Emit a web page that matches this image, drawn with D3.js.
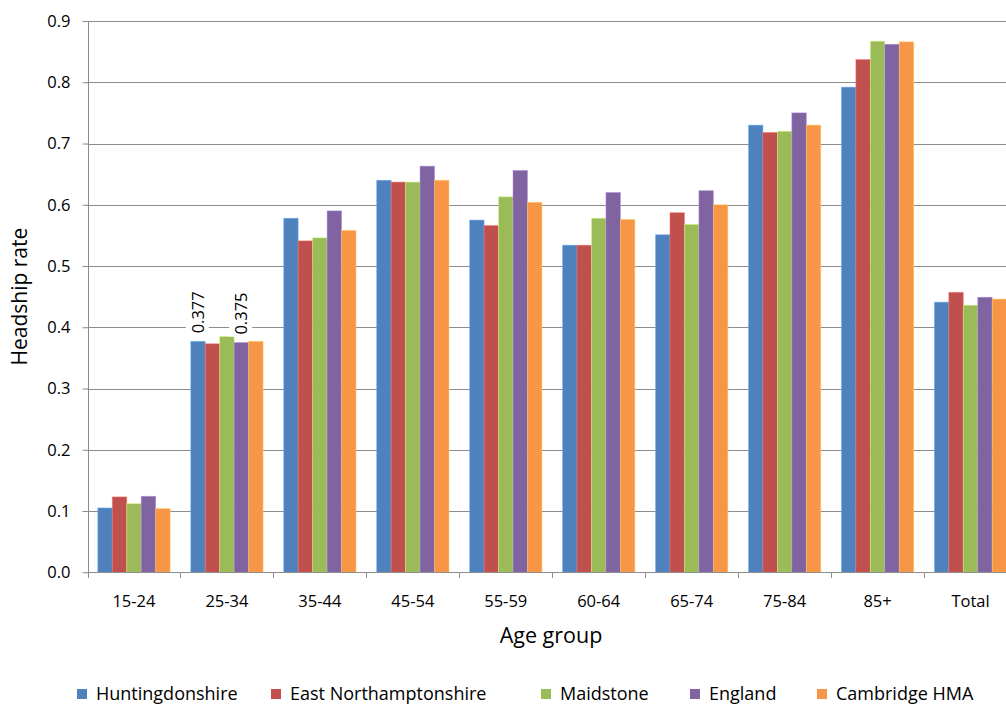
<!DOCTYPE html>
<html>
<head>
<meta charset="utf-8">
<script src="https://cdn.jsdelivr.net/npm/d3@7"></script>
<style>
  html, body { margin: 0; padding: 0; background: #fff; }
  svg text { font-family: "Open Sans", "Noto Sans", sans-serif; fill: #000; }
</style>
</head>
<body>
<svg id="chart" width="1006" height="706"></svg>
<script>
// Age groups along the x axis
const ageGroups = ["15-24", "25-34", "35-44", "45-54", "55-59", "60-64", "65-74", "75-84", "85+", "Total"];

// Areas compared in each group
const seriesNames = ["Huntingdonshire", "East Northamptonshire", "Maidstone", "England", "Cambridge HMA"];
const seriesColors = ["#4F81BD", "#C0504D", "#9BBB59", "#8064A2", "#F79646"];

// Headship rates per area, one value per age group
const huntingdonshire      = [0.105, 0.377, 0.578, 0.640, 0.575, 0.534, 0.551, 0.730, 0.792, 0.441];
const eastNorthamptonshire = [0.123, 0.373, 0.541, 0.637, 0.566, 0.534, 0.587, 0.718, 0.837, 0.457];
const maidstone            = [0.112, 0.385, 0.546, 0.637, 0.613, 0.578, 0.568, 0.720, 0.867, 0.436];
const england              = [0.124, 0.375, 0.590, 0.663, 0.656, 0.620, 0.623, 0.750, 0.862, 0.449];
const cambridgeHMA         = [0.104, 0.377, 0.558, 0.640, 0.604, 0.576, 0.600, 0.730, 0.866, 0.446];

const seriesValues = [huntingdonshire, eastNorthamptonshire, maidstone, england, cambridgeHMA];

// Y axis ticks
const yTicks = [0, 0.1, 0.2, 0.3, 0.4, 0.5, 0.6, 0.7, 0.8, 0.9];

// Bars carrying a value label: [series index, age group index]
const labelledBars = [[0, 1], [3, 1]];

const svg = d3.select("#chart");

const plot = { left: 87.5, right: 1017, top: 21, bottom: 572.25 };

// Each band spans the full category width; bars sit in its middle
const xCat = d3.scaleBand()
  .domain(ageGroups)
  .range([plot.left, plot.right]);

const xInner = d3.scaleBand()
  .domain(seriesNames)
  .range([0, xCat.bandwidth() * 0.778]);

const y = d3.scaleLinear()
  .domain([0, 0.9])
  .range([plot.bottom, plot.top]);

// Horizontal gridlines
svg.append("g")
  .selectAll("line")
  .data(yTicks.slice(1))
  .join("line")
  .attr("x1", plot.left)
  .attr("x2", plot.right)
  .attr("y1", d => Math.round(y(d)) + 0.5)
  .attr("y2", d => Math.round(y(d)) + 0.5)
  .attr("stroke", "#8c8c8c")
  .attr("stroke-width", 1);

// Bars
const groupOffset = xCat.bandwidth() * 0.111;
const groups = svg.append("g")
  .selectAll("g")
  .data(seriesNames)
  .join("g")
  .attr("fill", (d, i) => seriesColors[i]);

groups.selectAll("rect")
  .data((name, si) => seriesValues[si].map((v, gi) => ({ name, si, gi, v })))
  .join("rect")
  .attr("x", d => xCat(ageGroups[d.gi]) + groupOffset + xInner(d.name))
  .attr("width", xInner.bandwidth())
  .attr("y", d => y(d.v))
  .attr("height", d => y(0) - y(d.v))
  .attr("stroke", d => d3.color(seriesColors[d.si]).brighter(0.9))
  .attr("stroke-opacity", 0.6)
  .attr("stroke-width", 0.8);

// Y axis
const yAxis = d3.axisLeft(y)
  .tickValues(yTicks)
  .tickFormat(d3.format(".1f"))
  .tickSize(6)
  .tickPadding(12);

const yAxisG = svg.append("g")
  .attr("transform", `translate(${Math.round(plot.left) + 0.5},0)`)
  .call(yAxis);
yAxisG.select(".domain").attr("stroke", "#8c8c8c").attr("d", `M-0,${plot.top}V${plot.bottom}`);
yAxisG.selectAll(".tick line").attr("stroke", "#8c8c8c");
yAxisG.selectAll(".tick text")
  .style("font-size", "16.5px")
  .attr("fill", "#000");

// X axis baseline and category separators
const xAxisG = svg.append("g");
xAxisG.append("line")
  .attr("x1", plot.left)
  .attr("x2", plot.right)
  .attr("y1", Math.round(plot.bottom) + 0.5)
  .attr("y2", Math.round(plot.bottom) + 0.5)
  .attr("stroke", "#8c8c8c");

const boundaries = ageGroups.map(g => xCat(g)).concat([xCat(ageGroups[ageGroups.length - 1]) + xCat.bandwidth()]);
xAxisG.selectAll("line.sep")
  .data(boundaries)
  .join("line")
  .attr("class", "sep")
  .attr("x1", d => Math.round(d) + 0.5)
  .attr("x2", d => Math.round(d) + 0.5)
  .attr("y1", Math.round(plot.bottom))
  .attr("y2", Math.round(plot.bottom) + 6)
  .attr("stroke", "#8c8c8c");

xAxisG.selectAll("text")
  .data(ageGroups)
  .join("text")
  .attr("x", d => xCat(d) + xCat.bandwidth() / 2)
  .attr("y", 607)
  .attr("text-anchor", "middle")
  .style("font-size", "16.5px")
  .text(d => d);

// Value labels, rotated, on a white box
labelledBars.forEach(([si, gi]) => {
  const v = seriesValues[si][gi];
  const cx = xCat(ageGroups[gi]) + groupOffset + xInner(seriesNames[si]) + xInner.bandwidth() / 2;
  const baseY = y(v) - 8;
  const g = svg.append("g").attr("transform", `translate(${cx},${baseY}) rotate(-90)`);
  const t = g.append("text")
    .attr("x", 0)
    .attr("y", 0)
    .attr("dy", "0.35em")
    .attr("text-anchor", "start")
    .style("font-size", "16.5px")
    .text(d3.format(".3f")(v));
  const bb = t.node().getBBox();
  g.insert("rect", "text")
    .attr("x", bb.x - 2)
    .attr("y", bb.y)
    .attr("width", bb.width + 4)
    .attr("height", bb.height)
    .attr("fill", "#fff");
});

// Axis titles
svg.append("text")
  .attr("transform", `translate(27,${(plot.top + plot.bottom) / 2}) rotate(-90)`)
  .attr("text-anchor", "middle")
  .style("font-size", "21px")
  .text("Headship rate");

svg.append("text")
  .attr("x", 551)
  .attr("y", 643)
  .attr("text-anchor", "middle")
  .style("font-size", "21.5px")
  .text("Age group");

// Legend
const legendX = [77, 271, 541, 690, 817];
const legend = svg.append("g")
  .selectAll("g")
  .data(seriesNames)
  .join("g")
  .attr("transform", (d, i) => `translate(${legendX[i]},689)`);

legend.append("rect")
  .attr("width", 10)
  .attr("height", 10)
  .attr("fill", (d, i) => seriesColors[i]);

legend.append("text")
  .attr("x", 19)
  .attr("y", 5)
  .attr("dy", "0.35em")
  .style("font-size", "18px")
  .text(d => d);
</script>
</body>
</html>
